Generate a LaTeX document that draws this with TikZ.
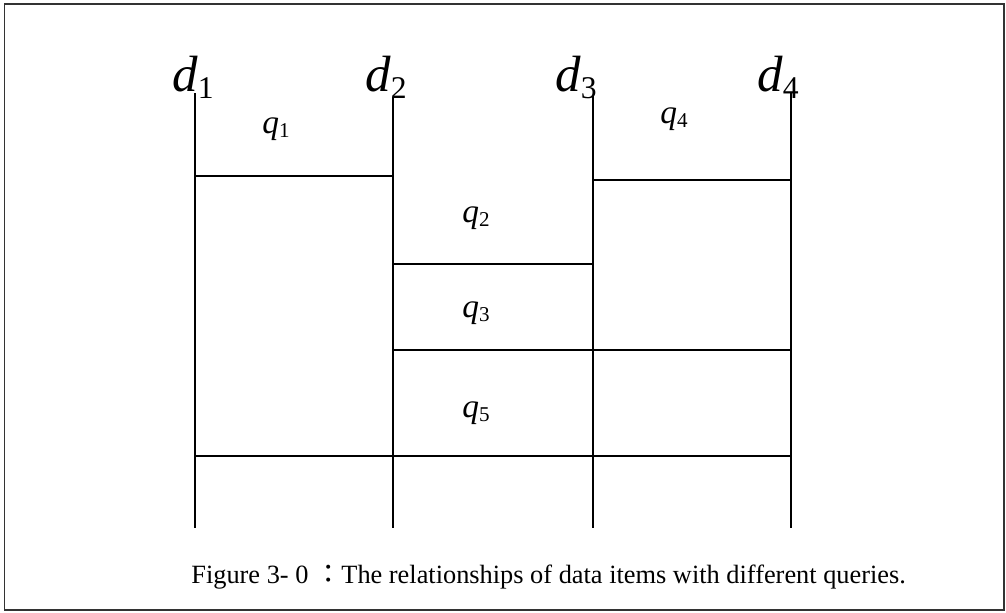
\documentclass[tikz,border=0pt]{standalone}
\usepackage{fontspec}
\setmainfont{Liberation Serif}
\newfontfamily\cjk{Noto Sans CJK TC}
\usetikzlibrary{positioning}
\newcommand{\dname}[1]{{\fontsize{29}{29}\selectfont\itshape d}\raisebox{-4pt}{\fontsize{18}{18}\selectfont #1}}
\newcommand{\qname}[1]{{\fontsize{19}{19}\selectfont\itshape q}\raisebox{-2.3pt}{\fontsize{12}{12}\selectfont #1}}

\begin{document}
\begin{tikzpicture}[
    x=0.02cm, y=-0.02cm,
    frame/.style={draw=black!80, line width=0.8pt},
    bar/.style={draw=black, line width=1pt},
    dtag/.style={anchor=base west, inner sep=0pt},
    qtag/.style={anchor=base west, inner sep=0pt},
    caption/.style={anchor=base west, inner sep=0pt, font=\fontsize{15}{15}\selectfont}
]
\useasboundingbox (0,0) rectangle (1006,612);
\draw[frame] (4.5,4) rectangle (1004,610);

% data items
\node[dtag] (d1) at (172,91) {\dname{1}};
\node[dtag] (d2) at (365,91) {\dname{2}};
\node[dtag] (d3) at (555,91) {\dname{3}};
\node[dtag] (d4) at (757,91) {\dname{4}};
\coordinate (t1) at (195,93);  \coordinate (b1) at (195,528);
\coordinate (t2) at (393,97);  \coordinate (b2) at (393,528);
\coordinate (t3) at (593,95);  \coordinate (b3) at (593,528);
\coordinate (t4) at (791,93);  \coordinate (b4) at (791,528);
\draw[bar] (t1) -- (b1);
\draw[bar] (t2) -- (b2);
\draw[bar] (t3) -- (b3);
\draw[bar] (t4) -- (b4);

% query ranges
\draw[bar] (t1 |- 0,176) -- (t2 |- 0,176);
\draw[bar] (t3 |- 0,180) -- (t4 |- 0,180);
\draw[bar] (t2 |- 0,264) -- (t3 |- 0,264);
\draw[bar] (t2 |- 0,350) -- (t4 |- 0,350);
\draw[bar] (t1 |- 0,456) -- (t4 |- 0,456);

\node[qtag] (q1) at (262,133) {\qname{1}};
\node[qtag] (q2) at (462,222) {\qname{2}};
\node[qtag] (q3) at (462,317) {\qname{3}};
\node[qtag] (q4) at (660,123) {\qname{4}};
\node[qtag] (q5) at (462,417) {\qname{5}};

\node[caption] (cap) at (191,583) {Figure 3- 0 {\cjk ：}The relationships of data items with different queries.};
\end{tikzpicture}
\end{document}
